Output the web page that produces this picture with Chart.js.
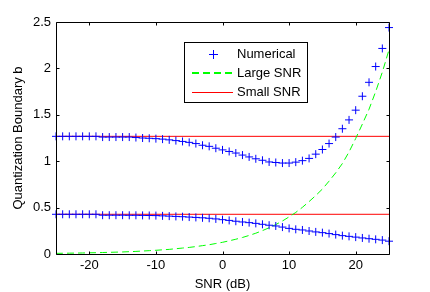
<!DOCTYPE html>
<html>
<head>
<meta charset="utf-8">
<script src="https://cdn.jsdelivr.net/npm/chart.js@4"></script>
<style>
	html, body { margin: 0; padding: 0; background: #fff; }
	canvas { display: block; }
</style>
</head>
<body>
<canvas id="chart" width="430" height="292"></canvas>
<script>
const snr = [
	-25, -24, -23, -22, -21, -20, -19, -18, -17, -16, -15, -14, -13, -12, -11, -10, -9,
	-8, -7, -6, -5, -4, -3, -2, -1, 0, 1, 2, 3, 4, 5, 6, 7, 8,
	9, 10, 11, 12, 13, 14, 15, 16, 17, 18, 19, 20, 21, 22, 23, 24, 25,
];
const numericalUpper = [
	1.268, 1.268, 1.268, 1.268, 1.268, 1.268, 1.268, 1.26, 1.26, 1.26, 1.26, 1.26, 1.255, 1.25, 1.247, 1.243, 1.238,
	1.23, 1.222, 1.213, 1.203, 1.19, 1.172, 1.16, 1.14, 1.122, 1.105, 1.088, 1.066, 1.046, 1.026, 1.01, 0.992, 0.986,
	0.98, 0.98, 0.99, 1.006, 1.03, 1.076, 1.126, 1.19, 1.26, 1.35, 1.445, 1.55, 1.7, 1.85, 2.02, 2.215, 2.44,
];
const numericalLower = [
	0.428, 0.428, 0.428, 0.428, 0.428, 0.428, 0.428, 0.418, 0.418, 0.418, 0.418, 0.417, 0.417, 0.416, 0.415, 0.414, 0.411,
	0.408, 0.405, 0.402, 0.398, 0.394, 0.39, 0.385, 0.378, 0.37, 0.362, 0.353, 0.345, 0.338, 0.33, 0.32, 0.31, 0.302,
	0.29, 0.276, 0.266, 0.259, 0.248, 0.238, 0.23, 0.22, 0.209, 0.198, 0.19, 0.182, 0.173, 0.165, 0.158, 0.15, 0.138,
];
const largeSnr = [
	0.007, 0.008, 0.009, 0.01, 0.011, 0.013, 0.014, 0.016, 0.018, 0.02, 0.022, 0.025, 0.028, 0.032, 0.036, 0.04, 0.045,
	0.05, 0.057, 0.064, 0.071, 0.08, 0.09, 0.1, 0.113, 0.126, 0.142, 0.159, 0.178, 0.2, 0.224, 0.252, 0.283, 0.317,
	0.356, 0.4, 0.448, 0.503, 0.565, 0.63, 0.7, 0.785, 0.875, 0.975, 1.1, 1.245, 1.4, 1.56, 1.75, 1.96, 2.2,
];
const smallSnrLevels = [0.428, 1.268];
const xTickValues = [-20, -10, 0, 10, 20];
const yTickValues = [0, 0.5, 1, 1.5, 2, 2.5];

const BLUE = "#0000ff";
const GREEN = "#00ff00";
const RED = "#ff0000";

const toPoints = ys => snr.map((x, i) => ({ x: x, y: ys[i] }));
const flatLine = level => [
	{ x: snr[0], y: level },
	{ x: snr[snr.length - 1], y: level },
];

const numericalStyle = {
	label: "Numerical",
	showLine: false,
	pointStyle: "cross",
	pointRadius: 4,
	pointBorderWidth: 1,
	borderColor: BLUE,
	backgroundColor: BLUE,
	clip: false,
};

// matlab style box with inward ticks + legend inside the plot
const boxAxes = {
	id: "boxAxes",
	afterDatasetsDraw(chart) {
		const { ctx, chartArea: a, scales } = chart;
		const l = Math.round(a.left) + 0.5;
		const r = Math.round(a.right) + 0.5;
		const t = Math.round(a.top) + 0.5;
		const b = Math.round(a.bottom) + 0.5;
		ctx.save();
		ctx.strokeStyle = "#000";
		ctx.lineWidth = 1;
		ctx.beginPath();
		ctx.rect(l, t, r - l, b - t);
		xTickValues.forEach(v => {
			const px = Math.round(scales.x.getPixelForValue(v)) + 0.5;
			ctx.moveTo(px, b);
			ctx.lineTo(px, b - 3);
			ctx.moveTo(px, t);
			ctx.lineTo(px, t + 3);
		});
		yTickValues.forEach(v => {
			const py = Math.round(scales.y.getPixelForValue(v)) + 0.5;
			ctx.moveTo(l, py);
			ctx.lineTo(l + 3, py);
			ctx.moveTo(r, py);
			ctx.lineTo(r - 3, py);
		});
		ctx.stroke();
		ctx.restore();
	},
	afterDraw(chart) {
		const { ctx } = chart;
		const legendItems = [
			{ label: "Numerical", color: BLUE, marker: true, width: 1 },
			{ label: "Large SNR", color: GREEN, dash: [7, 4], width: 2 },
			{ label: "Small SNR", color: RED, width: 1 },
		];
		const bx = 184.5, by = 42.5, bw = 123, bh = 60;
		ctx.save();
		ctx.fillStyle = "#fff";
		ctx.fillRect(bx, by, bw, bh);
		ctx.strokeStyle = "#000";
		ctx.lineWidth = 1;
		ctx.strokeRect(bx, by, bw, bh);
		ctx.font = "13px 'Liberation Sans', Arial, sans-serif";
		ctx.textBaseline = "middle";
		legendItems.forEach((item, i) => {
			const y = 54.5 + i * 19;
			const ly = item.width === 2 ? y - 0.5 : y;
			ctx.strokeStyle = item.color;
			ctx.lineWidth = item.width;
			ctx.setLineDash(item.dash || []);
			ctx.beginPath();
			if (item.marker) {
				ctx.moveTo(209, y);
				ctx.lineTo(218, y);
				ctx.moveTo(213.5, y - 4.5);
				ctx.lineTo(213.5, y + 4.5);
			} else {
				ctx.moveTo(192, ly);
				ctx.lineTo(233, ly);
			}
			ctx.stroke();
			ctx.setLineDash([]);
			ctx.fillStyle = "#000";
			ctx.fillText(item.label, 237, y);
		});
		ctx.restore();
	},
};

Chart.defaults.font.family = "'Liberation Sans', Arial, sans-serif";
Chart.defaults.font.size = 13;
Chart.defaults.color = "#000";

const ctx = document.querySelector("#chart").getContext("2d");
const myChart = new Chart(ctx, {
	type: "line",
	data: {
		datasets: [
			{ ...numericalStyle, data: toPoints(numericalUpper) },
			{ ...numericalStyle, data: toPoints(numericalLower) },
			{
				label: "Large SNR",
				data: toPoints(largeSnr),
				borderColor: GREEN,
				borderWidth: 1,
				borderDash: [7, 4],
				pointRadius: 0,
			},
			{
				label: "Small SNR",
				data: flatLine(smallSnrLevels[1]),
				borderColor: RED,
				borderWidth: 1,
				pointRadius: 0,
			},
			{
				label: "Small SNR",
				data: flatLine(smallSnrLevels[0]),
				borderColor: RED,
				borderWidth: 1,
				pointRadius: 0,
			},
		],
	},
	options: {
		responsive: false,
		animation: false,
		devicePixelRatio: 1,
		layout: { padding: { top: 22, right: 41, left: 0, bottom: 0 } },
		plugins: { legend: { display: false }, tooltip: { enabled: false } },
		scales: {
			x: {
				type: "linear",
				min: -25,
				max: 25,
				grid: { display: false, drawTicks: false },
				border: { display: false },
				ticks: { padding: 4, maxRotation: 0, callback: v => String(v) },
				afterBuildTicks: s => (s.ticks = xTickValues.map(v => ({ value: v }))),
				afterFit: s => (s.height = 38),
				title: { display: true, text: "SNR (dB)", padding: { top: 0, bottom: 0 } },
			},
			y: {
				type: "linear",
				min: 0,
				max: 2.5,
				grid: { display: false, drawTicks: false },
				border: { display: false },
				ticks: { padding: 5, callback: v => String(v) },
				afterBuildTicks: s => (s.ticks = yTickValues.map(v => ({ value: v }))),
				afterFit: s => (s.width = 56),
				title: { display: true, text: "Quantization Boundary b", padding: { top: 11, bottom: 0 } },
			},
		},
	},
	plugins: [boxAxes],
});
</script>
</body>
</html>
